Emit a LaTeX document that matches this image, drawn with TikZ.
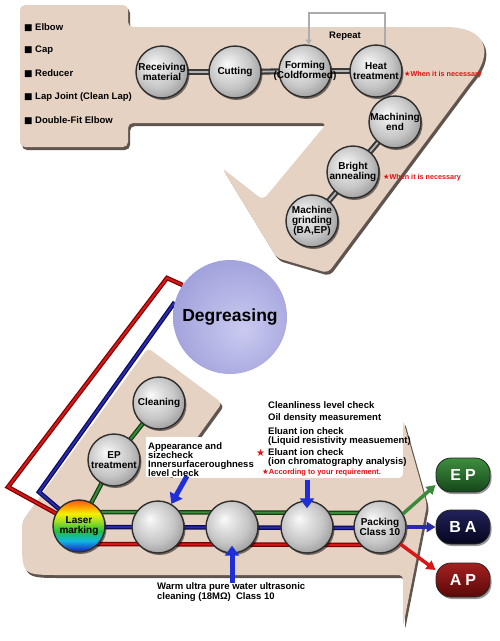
\documentclass[tikz,border=0pt]{standalone}
\usepackage{fontspec}
\setmainfont{Liberation Sans}
\newfontfamily\djv{DejaVu Sans}
\usetikzlibrary{arrows.meta,calc,shadows}
\pgfdeclarelayer{bg}
\pgfdeclarelayer{tubes}
\pgfsetlayers{bg,tubes,main}

\definecolor{beige}{HTML}{E6D2C3}
\definecolor{shadec}{HTML}{4F433B}
\definecolor{ringc}{HTML}{2E2E2E}
\definecolor{sphA}{HTML}{FAFAFA}
\definecolor{sphB}{HTML}{E6E6E6}
\definecolor{sphC}{HTML}{C6C6C6}
\definecolor{sphD}{HTML}{929292}
\definecolor{lavL}{HTML}{CACAF1}
\definecolor{lavD}{HTML}{A0A0DB}
\definecolor{redD}{HTML}{7A0000}
\definecolor{redL}{HTML}{D81818}
\definecolor{bluD}{HTML}{0A0A55}
\definecolor{bluL}{HTML}{2A2AAE}
\definecolor{grnD}{HTML}{143C14}
\definecolor{grnL}{HTML}{3A8A3A}
\definecolor{conD}{HTML}{3A3A3A}
\definecolor{conL}{HTML}{B4B4B4}
\definecolor{arrB}{HTML}{1F2FD8}
\definecolor{noteRed}{HTML}{E01010}
\definecolor{rbA}{HTML}{1838C8}
\definecolor{rbB}{HTML}{10B8E0}
\definecolor{rbC}{HTML}{20C040}
\definecolor{rbD}{HTML}{A8E020}
\definecolor{rbE}{HTML}{F4F000}
\definecolor{rbF}{HTML}{FF9A00}
\definecolor{rbG}{HTML}{FF4A1A}
\definecolor{epT}{HTML}{3E8E3E}
\definecolor{epB}{HTML}{15461A}
\definecolor{baT}{HTML}{22225A}
\definecolor{baB}{HTML}{05051E}
\definecolor{apT}{HTML}{A42020}
\definecolor{apB}{HTML}{5A0808}

\pgfdeclareradialshading{sphere}{\pgfpoint{-8bp}{8bp}}{color(0bp)=(sphA); color(7bp)=(sphB); color(20bp)=(sphC); color(33bp)=(sphD); color(50bp)=(sphD)}
\pgfdeclareradialshading{lav}{\pgfpoint{6bp}{-6bp}}{color(0bp)=(lavL); color(30bp)=(lavD); color(50bp)=(lavD)}
\pgfdeclareverticalshading{rainbow}{100bp}{color(0bp)=(rbA); color(27bp)=(rbA); color(36bp)=(rbB); color(45bp)=(rbC); color(55bp)=(rbD); color(62bp)=(rbE); color(69bp)=(rbF); color(76bp)=(rbG); color(100bp)=(rbG)}

\newcommand\sqb{{\djv\fontsize{9}{9}\selectfont ■}\hspace{2.5pt}}
\newcommand\stb{{\djv ★}}

\tikzset{
 ball/.style={circle, minimum size=52pt, inner sep=-9pt, shade, shading=sphere, draw=ringc, line width=1.4pt, align=center, font=\bfseries\fontsize{10}{10}\selectfont, drop shadow={shadow xshift=1.5pt, shadow yshift=-2pt, fill=black, opacity=0.5}},
 lavball/.style={circle, minimum size=114pt, inner sep=0pt, shade, shading=lav, font=\bfseries\fontsize{17.5}{18}\selectfont},
 pill/.style={rectangle, rounded corners=15pt, minimum width=54pt, minimum height=34pt, inner sep=0pt, draw=black!85, line width=0.8pt, text=white, font=\bfseries\fontsize{16}{16}\selectfont, drop shadow={shadow xshift=1.5pt, shadow yshift=-2pt, fill=black, opacity=0.4}},
 conn/.style={line width=6pt, draw=conD, postaction={draw=conL, line width=1.8pt}},
 redtube/.style={line width=4.5pt, draw=redD, postaction={draw=redL, line width=2pt}},
 bluetube/.style={line width=4.5pt, draw=bluD, postaction={draw=bluL, line width=2pt}},
 greentube/.style={line width=4.5pt, draw=grnD, postaction={draw=grnL, line width=2pt}},
 barrow/.style={draw=arrB, line width=5pt, -{Triangle[length=10pt,width=14pt]}},
 garrow/.style={draw=grnL, line width=3.5pt, -{Triangle[length=9pt,width=10pt]}},
 barrowb/.style={draw=bluL, line width=3.5pt, -{Triangle[length=9pt,width=10pt]}},
 rarrow/.style={draw=redL, line width=3.5pt, -{Triangle[length=9pt,width=10pt]}},
 repline/.style={draw=gray!65, line width=1.8pt, -{Triangle[length=5pt,width=6pt,fill=gray!40]}},
 lst/.style={anchor=west, inner sep=0pt, font=\bfseries\fontsize{9.5}{10}\selectfont},
 note/.style={anchor=west, inner sep=0pt, text=noteRed, font=\bfseries\fontsize{7.2}{8}\selectfont},
 blk/.style={anchor=west, inner sep=0pt, align=left, font=\bfseries\fontsize{9.5}{9}\selectfont},
 shapeshadow/.style={drop shadow={shadow xshift=2pt, shadow yshift=-3pt, fill=shadec, opacity=0.9}}
}

\begin{document}
\begin{tikzpicture}[x=1pt,y=-1pt]
\useasboundingbox (0,0) rectangle (500,641);

% ---------- nodes ----------
\node[ball] (recv) at (162,72) {Receiving\\material};
\node[ball] (cut) at (235,72) {Cutting};
\node[ball] (form) at (305,71) {Forming\\(Coldformed)};
\node[ball] (heat) at (376,71) {Heat\\treatment};
\node[ball] (mach) at (395,122) {Machining\\end};
\node[ball] (bright) at (353,172) {Bright\\annealing};
\node[ball] (grind) at (312,221) {Machine\\grinding\\(BA,EP)};

\node[lavball] (degr) at (230,317) {Degreasing};

\node[ball] (clean) at (159,403) {Cleaning};
\node[ball] (eptr) at (114,460) {EP\\treatment};
\node[ball, shading=rainbow] (laser) at (79,526) {Laser\\marking};
\node[ball] (c3) at (158,527) {};
\node[ball] (c4) at (232,527) {};
\node[ball] (c5) at (307,527) {};
\node[ball] (pack) at (380,527) {Packing\\Class 10};

\node[pill, top color=epT, bottom color=epB] (ep) at (463,475) {E\hspace{4pt}P};
\node[pill, top color=baT, bottom color=baB] (ba) at (463,527) {B\hspace{4pt}A};
\node[pill, top color=apT, bottom color=apB] (ap) at (463,580) {A\hspace{4pt}P};

% ---------- background shapes ----------
\begin{pgfonlayer}{bg}
\fill[white] (0,0) rectangle (500,641);
\fill[beige, rounded corners=5pt, shapeshadow]
  (20,5) -- (128,5) -- (128,27) -- (440,27) .. controls (490,27) and (492,55) .. (470,82)
  -- (328,273) -- (277,258) -- (222,168) -- (263,200) -- (327,123)
  -- (128,123) -- (128,147) -- (20,147) -- cycle;
\fill[beige, rounded corners=4pt, shapeshadow]
  (148,348) -- (222,403) -- (168,478) -- (403,478) -- (403,420)
  -- (427,505) -- (403,627) -- (403,575) -- (64,575) .. controls (22,575) .. (22,535)
  .. controls (22,521) .. (34,505) -- cycle;
\fill[white] (146,437) rectangle (258,477);
\end{pgfonlayer}

% ---------- tubes ----------
\begin{pgfonlayer}{tubes}
\draw[conn] (recv.center) -- (cut.center);
\draw[conn] (cut.center) -- (form.center);
\draw[conn] (form.center) -- (heat.center);
\draw[conn] (mach.center) -- (bright.center);
\draw[conn] (bright.center) -- (grind.center);

\coordinate (r1) at (167,278);
\coordinate (r2) at (8,487);
\coordinate (b1) at (39,492);
\draw[redtube] (degr.146) -- (r1) -- (r2) -- (laser.center);
\draw[bluetube] (degr.165) -- (b1) -- (laser.center);
\draw[greentube] (clean.center) -- (eptr.center) -- (laser.center);
\draw[greentube] ([yshift=14pt]laser.center) -- ([yshift=14pt]pack.center);
\draw[bluetube] ([yshift=-1pt]laser.center) -- ([yshift=-1pt]pack.center);
\draw[redtube] ([yshift=-18pt]laser.center) -- ([yshift=-18pt]pack.center);
\end{pgfonlayer}

% ---------- repeat loop ----------
\draw[repline] (heat.70) -- ++(0,-33) -| (form.82);
\node[font=\bfseries\fontsize{9.5}{10}\selectfont, inner sep=0pt] (rep) at (345,36) {Repeat};

% ---------- arrows ----------
\coordinate (a1) at (187,476);
\coordinate (a2) at (307,480);
\coordinate (a3) at (232,583);
\draw[barrow] (a1) -- (c3.60);
\draw[barrow] (a2) -- ([yshift=-8pt]c5.north);
\draw[barrow] (a3) -- ([yshift=8pt]c4.south);

\draw[garrow] (pack.30) -- (ep.200);
\draw[barrowb] (pack.east) -- (ba.west);
\draw[rarrow] (pack.-40) -- (ap.160);

% ---------- texts ----------
\node[lst] (l1) at (24,28) {\sqb Elbow};
\node[lst] (l2) at (24,50) {\sqb Cap};
\node[lst] (l3) at (24,74) {\sqb Reducer};
\node[lst] (l4) at (24,97) {\sqb Lap Joint (Clean Lap)};
\node[lst] (l5) at (24,121) {\sqb Double-Fit Elbow};

\node[note] (n1) at (404,75) {\stb When it is necessary};
\node[note] (n2) at (383,178) {\stb When it is necessary};

\node[blk] (t1) at (148,459.5) {Appearance and\\sizecheck\\Innersurfaceroughness\\level check};

\node[blk] (t2) at (268,405) {Cleanliness level check};
\node[blk] (t3) at (268,418) {Oil density measurement};
\node[blk] (t4) at (268,436.5) {Eluant ion check\\(Liquid resistivity measuement)};
\node[blk] (t5) at (268,458) {Eluant ion check\\(ion chromatography analysis)};
\node[anchor=west, inner sep=0pt, text=noteRed, font=\fontsize{10}{10}\selectfont] (t5s) at (256,453) {\stb};
\node[note, font=\bfseries\fontsize{7.5}{8}\selectfont] (t6) at (262,473) {\stb According to your requirement.};

\node[blk, font=\bfseries\fontsize{9.5}{10}\selectfont] (t7) at (157,592) {Warm ultra pure water ultrasonic\\cleaning (18MΩ)\ \ Class 10};
\end{tikzpicture}
\end{document}
